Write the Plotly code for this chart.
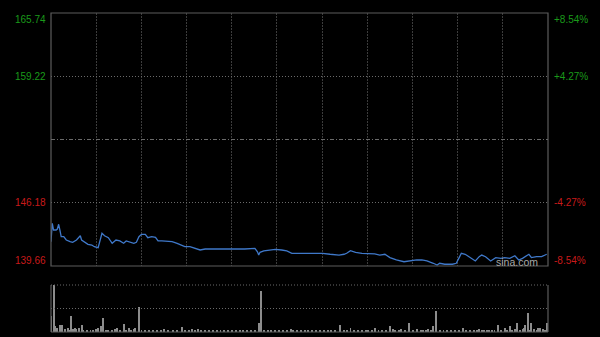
import plotly.graph_objects as go

# ---- data (minutes since open, price) ----
price_minute = [0, 1, 2, 4, 5, 6, 7, 8, 10, 12, 15, 17, 20, 23, 24, 27, 29, 32, 34, 37,
                38, 40, 42, 45, 48, 50, 51, 54, 57, 59, 62, 65, 67, 69, 71, 74, 76, 79, 82, 84,
                87, 91, 95, 99, 102, 105, 109, 113, 117, 121, 126, 131,
                142, 152, 160, 162, 163, 164, 167, 172, 176, 181, 185, 189, 197, 205, 213, 219,
                226, 230, 232, 235, 239, 244, 249, 254, 258, 262,
                266, 271, 277, 282, 287, 291, 295, 300, 303, 305, 309, 315, 318, 320, 322, 325,
                328, 330, 333, 336, 338, 341, 345, 349, 353, 356, 360, 364, 367, 370, 375, 377,
                381, 385, 389]
price = [142.17, 144.06, 143.37, 143.37, 143.47, 143.96, 143.37, 142.68, 142.68, 142.34,
         142.17, 142.10, 142.34, 142.78, 142.34, 142.10, 141.90, 141.82, 141.65, 141.55,
         142.17, 143.03, 142.78, 142.58, 142.00, 142.17, 142.34, 142.24, 142.00, 142.24,
         142.10, 142.00, 142.10, 142.68, 142.93, 142.93, 142.58, 142.68, 142.62, 142.24,
         142.24, 142.17, 142.17, 142.00, 141.82, 141.65, 141.65, 141.48, 141.31, 141.41,
         141.41, 141.38,
         141.41, 141.41, 141.48, 141.13, 140.79, 141.07, 141.21, 141.31, 141.38, 141.31,
         141.21, 140.97, 140.97, 140.97, 140.97, 140.87, 140.79, 140.87, 140.97, 141.24,
         141.07, 140.97, 140.97, 140.90, 140.79, 140.87,
         140.52, 140.28, 140.10, 140.21, 140.28, 140.28, 140.18, 139.94, 139.76, 139.94,
         139.84, 139.84, 139.94, 140.45, 140.97, 140.87, 140.62, 140.52, 140.18, 140.62,
         140.79, 140.62, 140.18, 140.52, 140.45, 140.52, 140.45, 140.72, 140.28, 140.45,
         140.87, 140.52, 140.62, 140.62, 140.87]

vol_minute = [0, 2, 3, 5, 7, 8, 9, 11, 13, 14,
              16, 17, 19, 20, 22, 24, 25, 28, 31, 33,
              35, 37, 39, 41, 43, 45, 48, 50, 52, 54,
              57, 59, 61, 63, 65, 66, 69, 71, 74, 77,
              80, 83, 86, 89, 92, 96, 99, 103, 105, 108,
              111, 113, 115, 118, 121, 124, 127, 130, 133, 136,
              139, 142, 145, 148, 151, 154, 157, 160, 163, 165,
              167, 170, 173, 176, 179, 182, 185, 188, 190, 193,
              196, 199, 202, 205, 208, 211, 214, 217, 220, 223,
              227, 230, 232, 235, 238, 241, 244, 247, 249, 252,
              254, 257, 260, 263, 266, 268, 270, 273, 275, 278,
              281, 284, 287, 290, 292, 294, 296, 298, 300, 302,
              305, 308, 311, 314, 317, 320, 323, 326, 329, 332,
              334, 336, 338, 340, 342, 344, 346, 348, 351, 353,
              356, 358, 360, 362, 364, 366, 368, 370, 371, 372,
              374, 375, 377, 379, 381, 382, 384, 386, 388, 389]
volume = [33, 100, 12, 8, 15, 8, 15, 6, 8, 5,
          35, 6, 8, 6, 8, 15, 5, 4, 5, 5,
          6, 8, 13, 30, 5, 4, 5, 6, 8, 5,
          18, 5, 8, 5, 6, 8, 53, 5, 4, 5,
          4, 4, 5, 6, 4, 4, 5, 10, 4, 5,
          6, 5, 6, 4, 5, 3, 4, 5, 3, 4,
          4, 3, 5, 3, 4, 3, 4, 5, 20, 87,
          5, 4, 3, 4, 4, 3, 4, 7, 5, 4,
          4, 3, 4, 4, 3, 4, 3, 4, 3, 4,
          14, 4, 5, 8, 4, 3, 4, 5, 5, 4,
          8, 4, 3, 4, 13, 6, 4, 5, 6, 4,
          20, 4, 7, 4, 5, 4, 6, 4, 12, 44,
          5, 4, 3, 4, 4, 3, 8, 4, 5, 4,
          4, 7, 4, 5, 4, 5, 4, 5, 15, 4,
          8, 5, 12, 4, 6, 20, 5, 6, 8, 14,
          40, 4, 19, 6, 5, 8, 8, 6, 4, 19]

prev_close = 152.70
price_ticks = [165.74, 159.22, 146.18, 139.66]
pct_ticks = ["+8.54%", "+4.27%", "-4.27%", "-8.54%"]
tick_colors = ["#1a9a1a", "#1a9a1a", "#c81a1a", "#c81a1a"]
session_minutes = 390
n_vgrid = 11

# ---- figure ----
MAIN_DOM = [0.2069, 1.0]
VOL_DOM = [0.0, 0.1473]

fig = go.Figure()
fig.add_trace(go.Scatter(x=price_minute, y=price, mode="lines",
                         line=dict(color="#3f78c9", width=1.3),
                         xaxis="x", yaxis="y", hoverinfo="skip"))
fig.add_trace(go.Bar(x=vol_minute, y=volume, width=0.75,
                     marker=dict(color="#8c8c8c", line=dict(width=0)),
                     xaxis="x2", yaxis="y2", hoverinfo="skip"))

vgrid = [session_minutes / n_vgrid * k for k in range(1, n_vgrid)]

fig.update_layout(
    width=600, height=337,
    margin=dict(l=51, r=52, t=13, b=5),
    paper_bgcolor="#000000", plot_bgcolor="#000000",
    showlegend=False, bargap=0,
    xaxis=dict(domain=[0, 1], range=[0, session_minutes], anchor="y",
               tickmode="array", tickvals=vgrid, showticklabels=False,
               showgrid=True, gridcolor="#3c3c3c", griddash="2px,1px", gridwidth=1,
               zeroline=False, showline=False, ticks=""),
    yaxis=dict(domain=MAIN_DOM, range=[price_ticks[-1], price_ticks[0]],
               tickmode="array", tickvals=[price_ticks[1], price_ticks[2]],
               showticklabels=False, showgrid=True, gridcolor="#6a6a6a",
               griddash="1px,2px", gridwidth=1, zeroline=False, showline=False),
    xaxis2=dict(domain=[0, 1], range=[0, session_minutes], anchor="y2",
                showticklabels=False, showgrid=False, zeroline=False,
                showline=False, ticks=""),
    yaxis2=dict(domain=VOL_DOM, range=[0, max(volume)], showticklabels=False,
                showgrid=False, zeroline=False, showline=False),
)

border = "#5c5c5c"
shapes = [
    dict(type="rect", xref="paper", yref="paper", x0=0, x1=1,
         y0=MAIN_DOM[0], y1=MAIN_DOM[1], line=dict(color=border, width=1.2)),
    dict(type="line", xref="paper", yref="y", x0=0, x1=1, y0=prev_close, y1=prev_close,
         line=dict(color="#6a6a6a", width=1, dash="4px,2px,1px,2px")),
    # volume panel
    dict(type="line", xref="paper", yref="paper", x0=0, x1=1, y0=VOL_DOM[1], y1=VOL_DOM[1],
         line=dict(color="#6a6a6a", width=1, dash="1px,2px")),
    dict(type="line", xref="paper", yref="paper", x0=0, x1=1,
         y0=VOL_DOM[1] / 2, y1=VOL_DOM[1] / 2,
         line=dict(color="#6a6a6a", width=1, dash="1px,2px")),
    dict(type="line", xref="paper", yref="paper", x0=0, x1=1, y0=0, y1=0,
         line=dict(color=border, width=1.2)),
    dict(type="line", xref="paper", yref="paper", x0=0, x1=0, y0=0, y1=VOL_DOM[1],
         line=dict(color=border, width=1.2)),
    dict(type="line", xref="paper", yref="paper", x0=1, x1=1, y0=0, y1=VOL_DOM[1],
         line=dict(color=border, width=1.2)),
]
fig.update_layout(shapes=shapes)

font_family = "Liberation Sans, Arial, sans-serif"
ann = []
shifts = [-6, 0, 0, 6]
for val, pct, col, ys in zip(price_ticks, pct_ticks, tick_colors, shifts):
    ann.append(dict(xref="paper", yref="y", x=0, y=val, xanchor="right", yanchor="middle",
                    xshift=-3, yshift=ys, text=f"{val:.2f}", showarrow=False,
                    font=dict(family=font_family, size=10, color=col)))
    ann.append(dict(xref="paper", yref="y", x=1, y=val, xanchor="left", yanchor="middle",
                    xshift=4, yshift=ys, text=pct, showarrow=False,
                    font=dict(family=font_family, size=10, color=col)))
ann.append(dict(xref="paper", yref="paper", x=0.9386, y=0.2204, xanchor="center",
                yanchor="middle", text="sina.com", showarrow=False,
                font=dict(family=font_family, size=10.5, color="#a8a8a8")))
fig.update_layout(annotations=ann)

fig.write_html("out.html")
